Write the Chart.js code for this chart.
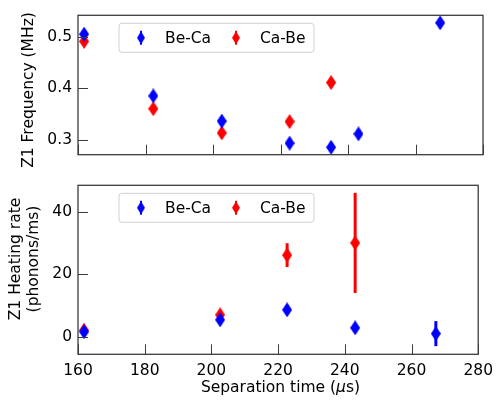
<!DOCTYPE html>
<html><head><meta charset="utf-8">
<script src="https://cdn.jsdelivr.net/npm/chart.js@4"></script>
<style>
html,body{margin:0;padding:0;background:#fff;}
#wrap{position:relative;width:500px;height:402px;overflow:hidden;}
#c1{position:absolute;left:0;top:0;}
#c2{position:absolute;left:0;top:170px;}
#xt{position:absolute;top:377px;left:0;width:561px;text-align:center;font:15.5px "DejaVu Sans";color:#000;line-height:20px;}
</style></head><body>
<div id="wrap">
<canvas id="c1" width="500" height="170"></canvas>
<canvas id="c2" width="500" height="232"></canvas>
<div id="xt">Separation time (<i>μ</i>s)</div>
</div>
<script>
// ---- data ----
const seriesNames = ['Be-Ca', 'Ca-Be'];
const xTicks = [160, 180, 200, 220, 240, 260, 280];
const freqTicks = [0.3, 0.4, 0.5];
const heatTicks = [0, 20, 40];
const freqTitle = ['Z1 Frequency (MHz)'];
const heatTitle = ['Z1 Heating rate', '(phonons/ms)'];

const freqX_BeCa = [161.8, 182.3, 202.6, 222.7, 235.0, 243.1, 267.3];
const freqY_BeCa = [0.505, 0.385, 0.336, 0.293, 0.285, 0.311, 0.527];
const freqE_BeCa = [0.002, 0.002, 0.002, 0.002, 0.002, 0.002, 0.002];
const freqX_CaBe = [161.8, 182.3, 202.6, 222.7, 235.0];
const freqY_CaBe = [0.491, 0.360, 0.313, 0.335, 0.411];
const freqE_CaBe = [0.002, 0.002, 0.002, 0.002, 0.002];

const heatX_BeCa = [161.8, 202.6, 222.7, 243.1, 267.3];
const heatY_BeCa = [1.6, 5.4, 8.6, 2.85, 1.0];
const heatE_BeCa = [1.0, 1.2, 1.5, 1.2, 4.0];
const heatX_CaBe = [161.8, 202.6, 222.7, 243.1];
const heatY_CaBe = [2.1, 7.0, 26.1, 30.0];
const heatE_CaBe = [1.0, 1.2, 3.8, 16.0];

// ---- styling ----
const BLUE = '#0000ff', RED = '#ff0000', SPINE = '#3c3c3c';
const FONT = '15.5px "DejaVu Sans"';
Chart.defaults.font.family = '"DejaVu Sans", sans-serif';
Chart.defaults.font.size = 15.5;
Chart.defaults.color = '#000';

function diamond(color, w, h) {
  const c = document.createElement('canvas');
  c.width = w; c.height = h;
  const g = c.getContext('2d');
  g.fillStyle = color;
  g.beginPath();
  g.moveTo(w / 2, 0); g.lineTo(w, h / 2); g.lineTo(w / 2, h); g.lineTo(0, h / 2);
  g.closePath(); g.fill();
  return c;
}

function pts(xs, ys) { return xs.map((x, i) => ({x: x, y: ys[i]})); }

function ds(label, xs, ys, es, color) {
  return {
    label: label, data: pts(xs, ys), errors: es,
    borderColor: color, backgroundColor: color,
    pointStyle: diamond(color, 10, 15), pointRadius: 6, showLine: false
  };
}

const errorBars = {
  id: 'errorBars',
  beforeDatasetsDraw(chart) {
    const ctx = chart.ctx, ys = chart.scales.y;
    chart.data.datasets.forEach((d, i) => {
      const meta = chart.getDatasetMeta(i);
      ctx.save();
      ctx.strokeStyle = d.borderColor; ctx.lineWidth = 3;
      d.data.forEach((p, j) => {
        const e = d.errors[j];
        const x = meta.data[j].x;
        ctx.beginPath();
        ctx.moveTo(x, ys.getPixelForValue(p.y - e));
        ctx.lineTo(x, ys.getPixelForValue(p.y + e));
        ctx.stroke();
      });
      ctx.restore();
    });
  }
};

const frameTicks = {
  id: 'frameTicks',
  afterDatasetsDraw(chart) {
    const ctx = chart.ctx, a = chart.chartArea;
    const xs = chart.scales.x, ys = chart.scales.y;
    ctx.save();
    ctx.strokeStyle = SPINE; ctx.lineWidth = 1;
    xs.ticks.forEach(t => {
      const px = Math.round(xs.getPixelForValue(t.value)) + 0.5;
      ctx.beginPath(); ctx.moveTo(px, a.bottom); ctx.lineTo(px, a.bottom - 10); ctx.stroke();
    });
    ys.ticks.forEach(t => {
      const py = Math.round(ys.getPixelForValue(t.value)) + 0.5;
      ctx.beginPath(); ctx.moveTo(a.left, py); ctx.lineTo(a.left + 10, py); ctx.stroke();
    });
    ctx.lineWidth = 1.3;
    ctx.strokeRect(a.left, a.top, a.right - a.left, a.bottom - a.top);
    ctx.restore();
  }
};

const yTitle = {
  id: 'yTitle',
  afterDraw(chart, args, o) {
    const ctx = chart.ctx;
    ctx.save();
    ctx.fillStyle = '#000'; ctx.font = FONT;
    ctx.textAlign = 'center'; ctx.textBaseline = 'middle';
    o.lines.forEach((t, i) => {
      ctx.save();
      ctx.translate(o.xs[i], o.cy);
      ctx.rotate(-Math.PI / 2);
      ctx.fillText(t, 0, 0);
      ctx.restore();
    });
    ctx.restore();
  }
};

const legendBox = {
  id: 'legendBox',
  afterDraw(chart, args, o) {
    const ctx = chart.ctx;
    const x = o.x, y = o.y, w = o.w, h = o.h, r = 3;
    ctx.save();
    ctx.beginPath();
    ctx.moveTo(x + r, y); ctx.lineTo(x + w - r, y); ctx.arcTo(x + w, y, x + w, y + r, r);
    ctx.lineTo(x + w, y + h - r); ctx.arcTo(x + w, y + h, x + w - r, y + h, r);
    ctx.lineTo(x + r, y + h); ctx.arcTo(x, y + h, x, y + h - r, r);
    ctx.lineTo(x, y + r); ctx.arcTo(x, y, x + r, y, r); ctx.closePath();
    ctx.fillStyle = 'rgba(255,255,255,0.8)'; ctx.fill();
    ctx.strokeStyle = '#d0d0d0'; ctx.lineWidth = 1; ctx.stroke();
    const cy = y + h / 2;
    chart.data.datasets.forEach((d, i) => {
      const mx = x + 22 + i * 95;
      ctx.strokeStyle = d.borderColor; ctx.lineWidth = 2;
      ctx.beginPath(); ctx.moveTo(mx, cy - 7); ctx.lineTo(mx, cy + 7); ctx.stroke();
      ctx.drawImage(diamond(d.borderColor, 8, 13), mx - 4, cy - 6.5);
      ctx.fillStyle = '#000'; ctx.font = FONT;
      ctx.textBaseline = 'middle'; ctx.textAlign = 'left';
      ctx.fillText(d.label, x + 46 + i * 95, cy + 1);
    });
    ctx.restore();
  }
};

function makeChart(id, datasets, yMin, yMax, yTicks, titleOpts, showX, pad, xH, legY, fmt) {
  return new Chart(document.getElementById(id), {
    type: 'scatter',
    data: {datasets: datasets},
    plugins: [errorBars, frameTicks, legendBox, yTitle],
    options: {
      responsive: false, animation: false, devicePixelRatio: 1,
      layout: {padding: pad},
      plugins: {legend: {display: false}, tooltip: {enabled: false},
        legendBox: {x: 119, y: legY, w: 195, h: 29},
        yTitle: titleOpts},
      scales: {
        x: {
          type: 'linear', min: 160, max: 280,
          afterBuildTicks: s => { s.ticks = xTicks.map(v => ({value: v})); },
          afterFit: s => { s.height = xH; },
          grid: {display: false, drawTicks: false},
          border: {display: false},
          ticks: {display: showX, padding: 7, maxRotation: 0, autoSkip: false, color: '#000'}
        },
        y: {
          type: 'linear', min: yMin, max: yMax,
          afterBuildTicks: s => { s.ticks = yTicks.map(v => ({value: v})); },
          afterFit: s => { s.width = 78; },
          grid: {display: false, drawTicks: false},
          border: {display: false},
          ticks: {padding: 6, color: '#000', callback: fmt}
        }
      }
    }
  });
}

makeChart('c1',
  [ds(seriesNames[0], freqX_BeCa, freqY_BeCa, freqE_BeCa, BLUE),
   ds(seriesNames[1], freqX_CaBe, freqY_CaBe, freqE_CaBe, RED)],
  0.2706, 0.5417, freqTicks, {lines: freqTitle, xs: [28.5], cy: 90}, false,
  {left: 0, right: 17, top: 15, bottom: 0}, 7, 23.3, v => v.toFixed(1));

makeChart('c2',
  [ds(seriesNames[0], heatX_BeCa, heatY_BeCa, heatE_BeCa, BLUE),
   ds(seriesNames[1], heatX_CaBe, heatY_CaBe, heatE_CaBe, RED)],
  -5.6, 48.4, heatTicks, {lines: heatTitle, xs: [15.5, 34], cy: 89}, true,
  {left: 0, right: 17, top: 8.3, bottom: 0}, 47.7, 23.3, v => String(v));
</script>
</body></html>
